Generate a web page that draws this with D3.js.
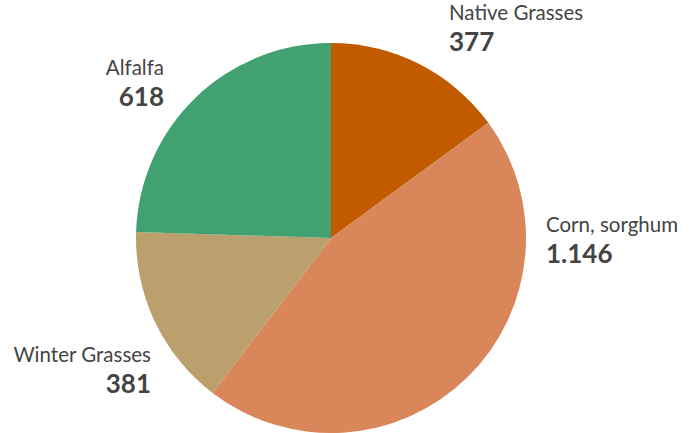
<!DOCTYPE html>
<html><head><meta charset="utf-8">
<script src="https://cdn.jsdelivr.net/npm/d3@7"></script>
<style>html,body{margin:0;padding:0;background:#fff;}svg{display:block;}</style>
</head><body>
<svg id="c" width="689" height="433"></svg>
<script>
const categories = ["Native Grasses", "Corn, sorghum", "Winter Grasses", "Alfalfa"];
const values = [377, 1146, 381, 618];
const colors = ["#C25A00", "#D9875A", "#BBA06E", "#41A171"];

// label layout (anchor points, text-anchor)
const labelLayout = [
  {x: 449, y: 19.5, anchor: "start"},
  {x: 546, y: 232, anchor: "start"},
  {x: 151, y: 362, anchor: "end"},
  {x: 164, y: 75, anchor: "end"}
];

const svg = d3.select("#c");
const cx = 331, cy = 238, r = 195;
const g = svg.append("g").attr("transform", `translate(${cx},${cy})`);
const pie = d3.pie().sort(null).value(d => d)(values);
const arc = d3.arc().innerRadius(0).outerRadius(r);
g.selectAll("path").data(pie).join("path")
  .attr("d", arc).attr("fill", (d,i) => colors[i]);

const fmt = d3.formatLocale({decimal: ",", thousands: ".", grouping: [3], currency: ["", ""]}).format(",d");
const font = "Lato, 'Open Sans', sans-serif";
categories.forEach((c, i) => {
  const L = labelLayout[i];
  svg.append("text").attr("x", L.x).attr("y", L.y).attr("text-anchor", L.anchor)
    .attr("font-family", font).attr("font-size", 20.5).attr("fill", "#444").text(c);
  svg.append("text").attr("x", L.x).attr("y", L.y + 31).attr("text-anchor", L.anchor)
    .attr("font-family", font).attr("font-size", 26).attr("font-weight", "bold").attr("fill", "#444").text(fmt(values[i]));
});
</script>
</body></html>
